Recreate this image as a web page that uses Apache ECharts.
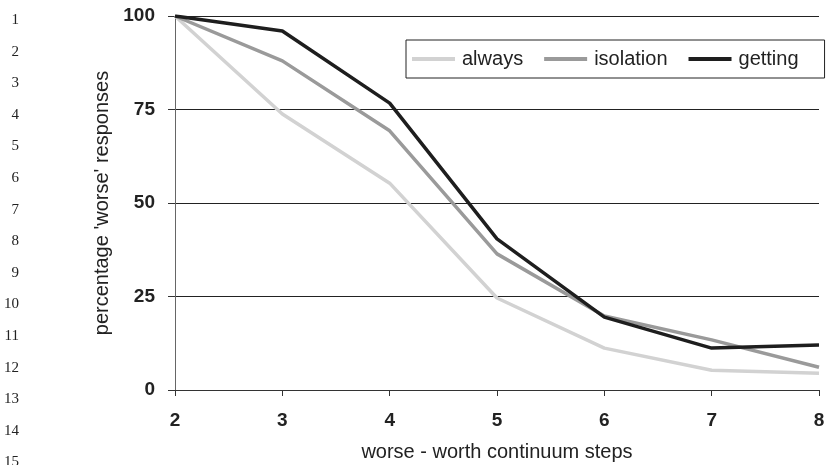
<!DOCTYPE html>
<html><head><meta charset="utf-8">
<script src="https://cdn.jsdelivr.net/npm/echarts@6/dist/echarts.min.js"></script>
<style>html,body{margin:0;padding:0;background:#fff}#c{width:827px;height:465px}</style>
</head><body><div id="c"></div>
<script>
const steps = [2, 3, 4, 5, 6, 7, 8];
const always = [100, 73.8, 55.3, 24.6, 11.2, 5.3, 4.5];
const isolation = [100, 88, 69.3, 36.4, 19.8, 13.4, 6.1];
const getting = [100, 96, 76.7, 40.4, 19.5, 11.2, 12];
const seriesNames = ['always', 'isolation', 'getting'];
const lineNumbers = ['1','2','3','4','5','6','7','8','9','10','11','12','13','14','15'];

const chart = echarts.init(document.getElementById('c'), null, {renderer: 'canvas'});
const pair = arr => steps.map((s, i) => [s, arr[i]]);
const colors = ['#d2d2d2', '#9a9a9a', '#1e1e1e'];
const datasets = [always, isolation, getting];

chart.setOption({
  animation: false,
  backgroundColor: '#fff',
  grid: {left: 175, right: 8, top: 16, bottom: 75, outerBoundsMode: 'none', containLabel: false},
  legend: {
    left: 406, top: 40,
    padding: [9, 26, 9, 6],
    borderColor: '#222', borderWidth: 1,
    icon: 'rect',
    itemWidth: 43, itemHeight: 4, itemGap: 21,
    textStyle: {fontFamily: 'Liberation Sans, Arial', fontSize: 20, color: '#222', padding: [0, 0, 0, 2]},
    data: seriesNames
  },
  xAxis: {
    type: 'value', min: 2, max: 8, interval: 1,
    name: 'worse - worth continuum steps', nameLocation: 'middle', nameGap: 52,
    nameTextStyle: {fontFamily: 'Liberation Sans, Arial', fontSize: 20, color: '#222'},
    axisLine: {lineStyle: {color: '#333', width: 1}},
    axisTick: {show: true, length: 6, lineStyle: {color: '#333'}},
    axisLabel: {fontFamily: 'Liberation Sans, Arial', fontSize: 19, fontWeight: 'bold', color: '#222', margin: 21},
    splitLine: {show: false}
  },
  yAxis: {
    type: 'value', min: 0, max: 100, interval: 25,
    name: "percentage 'worse' responses", nameLocation: 'middle', nameGap: 61,
    nameTextStyle: {fontFamily: 'Liberation Sans, Arial', fontSize: 20, color: '#222'},
    axisLine: {show: true, lineStyle: {color: '#666', width: 1}},
    axisTick: {show: true, length: 7, lineStyle: {color: '#333'}},
    axisLabel: {fontFamily: 'Liberation Sans, Arial', fontSize: 19, fontWeight: 'bold', color: '#222', margin: 20},
    splitLine: {show: true, lineStyle: {color: '#222', width: 1}}
  },
  graphic: lineNumbers.map((t, i) => ({
    type: 'text', x: 19, y: 20 + i * 31.6,
    style: {text: t, fontFamily: 'Liberation Serif, Times New Roman', fontSize: 15, fill: '#222', align: 'right', verticalAlign: 'middle'}
  })),
  series: seriesNames.map((n, k) => ({
    name: n, type: 'line', data: pair(datasets[k]),
    symbol: 'none', lineStyle: {color: colors[k], width: 3.5},
    itemStyle: {color: colors[k]}
  }))
});
</script></body></html>
